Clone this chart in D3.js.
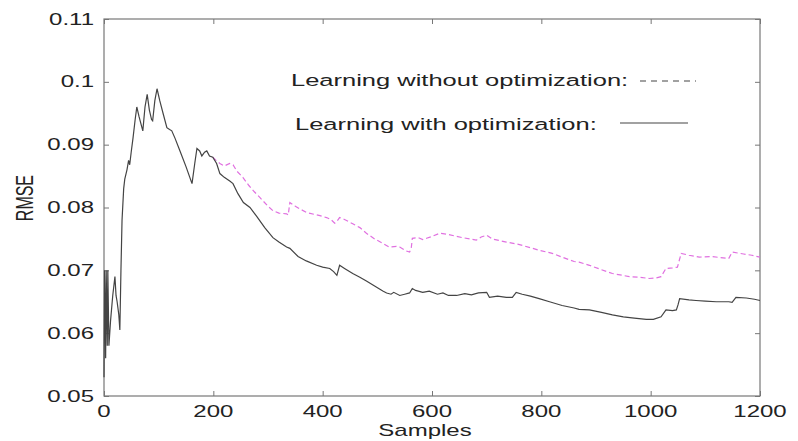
<!DOCTYPE html>
<html>
<head>
<meta charset="utf-8">
<script src="https://cdn.jsdelivr.net/npm/d3@7"></script>
<style>
  body { margin: 0; background: #fff; }
  text { font-family: "Liberation Sans", Arial, sans-serif; fill: #222; }
</style>
</head>
<body>
<div id="chart"></div>
<script>
/* CONSTANTS AND GLOBALS */
const width = 798;
const height = 441;
const margin = { top: 19, right: 38, bottom: 45, left: 104 };
const stretch = 1.5; // the picture is wider than its text
const axisColor = '#777';
const solidColor = '#444';
const dashColor = '#e070e0';

/* DATA */
const xTicks = [0, 200, 400, 600, 800, 1000, 1200];
const yTicks = [0.05, 0.06, 0.07, 0.08, 0.09, 0.1, 0.11];
const seriesNames = ['Learning without optimization:', 'Learning with optimization:'];

// learning with optimization (solid)
const withX = [0, 1, 3, 4, 6, 7, 9, 12, 16, 20, 22, 24, 27, 29, 31, 33, 36, 38, 42, 45, 47, 50, 53, 57, 60, 64, 67, 71, 75, 79, 83, 87, 89, 93, 97, 102, 108, 115, 120, 124, 130, 139, 150, 161, 166, 170, 175, 179, 184, 188, 193, 199,
  206, 212, 220, 230, 236, 245, 255, 267, 280, 294, 309, 320, 334, 340, 355, 370, 389, 400, 413, 420, 426, 431, 440, 455, 468, 480, 495, 510, 517, 525, 530, 541, 550, 559, 564, 570, 583, 595, 610, 620, 630, 645, 660, 672, 685, 700, 705, 720, 736, 747, 754, 765, 780, 796, 815, 838, 860, 869, 888, 910, 930, 950, 970, 992, 1005, 1019, 1028, 1040, 1047, 1050, 1053, 1070, 1083, 1100, 1120, 1143, 1149, 1156, 1175, 1190, 1200];
const withY = [0.053, 0.070, 0.056, 0.070, 0.058, 0.070, 0.058, 0.062, 0.066, 0.069, 0.066, 0.065, 0.063, 0.0605, 0.070, 0.078, 0.083, 0.0845, 0.086, 0.0875, 0.0868, 0.089, 0.091, 0.094, 0.096, 0.0945, 0.0935, 0.0922, 0.096, 0.098, 0.0955, 0.094, 0.0938, 0.097, 0.0989, 0.097, 0.095, 0.0927, 0.0924, 0.0922, 0.091, 0.089, 0.0865, 0.0838, 0.087, 0.0894, 0.089, 0.0882, 0.0888, 0.089, 0.0882, 0.088,
  0.087, 0.0854, 0.0848, 0.0842, 0.0838, 0.0822, 0.0808, 0.080, 0.0785, 0.0768, 0.0752, 0.0745, 0.0737, 0.0735, 0.0722, 0.0715, 0.0708, 0.0705, 0.0703, 0.0698, 0.0692, 0.0708, 0.0703, 0.0695, 0.0689, 0.0683, 0.0675, 0.0667, 0.0664, 0.0662, 0.0665, 0.066, 0.0662, 0.0664, 0.0671, 0.0668, 0.0665, 0.0667, 0.0662, 0.0664, 0.066, 0.066, 0.0663, 0.0661, 0.0664, 0.0665, 0.0657, 0.0659, 0.0657, 0.0657, 0.0665, 0.0662, 0.0659, 0.0655, 0.065, 0.0644, 0.064, 0.0638, 0.0637, 0.0633, 0.0629, 0.0626, 0.0624, 0.0622, 0.0622, 0.0626, 0.0637, 0.0636, 0.0637, 0.0645, 0.0655, 0.0653, 0.0652, 0.0651, 0.065, 0.065, 0.0649, 0.0657, 0.0656, 0.0654, 0.0652];

// learning without optimization (dashed)
const withoutX = [199, 205, 212, 220, 230, 236, 243, 254, 265, 275, 285, 300, 309, 320, 334, 337, 340, 350, 360, 371, 385, 395, 407, 415, 422, 426, 431, 440, 455, 468, 480, 495, 510, 522, 535, 541, 552, 559, 562, 564, 575, 583, 590, 600, 614, 630, 645, 656, 670, 681, 690, 700, 710, 720, 736, 760, 796, 820, 838, 860, 869, 888, 910, 930, 961, 980, 997, 1010, 1019, 1028, 1040, 1049, 1053, 1056, 1070, 1089, 1110, 1143, 1149, 1170, 1185, 1200];
const withoutY = [0.088, 0.0875, 0.087, 0.0866, 0.087, 0.0868, 0.0858, 0.0848, 0.0835, 0.0825, 0.0816, 0.0802, 0.0795, 0.0791, 0.079, 0.0788, 0.0808, 0.0802, 0.0797, 0.0792, 0.0789, 0.0787, 0.0784, 0.0781, 0.0775, 0.0778, 0.0784, 0.0781, 0.0774, 0.0768, 0.0759, 0.075, 0.0743, 0.0737, 0.0738, 0.0737, 0.0731, 0.0729, 0.0735, 0.0751, 0.0752, 0.0749, 0.0751, 0.0754, 0.0759, 0.0757, 0.0754, 0.0752, 0.075, 0.0748, 0.0753, 0.0756, 0.075, 0.0748, 0.0745, 0.0741, 0.0732, 0.0727, 0.0721, 0.0714, 0.0713, 0.0708, 0.0701, 0.0695, 0.069, 0.0689, 0.0687, 0.0688, 0.069, 0.0703, 0.0704, 0.0705, 0.0718, 0.0727, 0.0724, 0.0721, 0.0722, 0.0719, 0.0729, 0.0726, 0.0724, 0.0721];

const withData = withX.map((x, i) => ({ x, y: withY[i] }));
const withoutData = withoutX.map((x, i) => ({ x, y: withoutY[i] }));

/* SCALES */
const xScale = d3.scaleLinear()
  .domain([0, 1200])
  .range([margin.left, width - margin.right]);

const yScale = d3.scaleLinear()
  .domain([0.05, 0.11])
  .range([height - margin.bottom, margin.top]);

/* HTML ELEMENTS */
const svg = d3.select('#chart')
  .append('svg')
  .attr('width', width)
  .attr('height', height)
  .style('background-color', 'white');

// stretched text helper
function label(g, x, y, str, size, anchor, rotate) {
  return g.append('text')
    .attr('transform', `translate(${x},${y}) scale(${stretch},1)` + (rotate ? ` rotate(${rotate})` : ''))
    .attr('text-anchor', anchor)
    .attr('font-size', size)
    .text(str);
}

// ticks pointing inward on all four sides
const tickLen = 5;
svg.append('g')
  .attr('transform', `translate(0,${height - margin.bottom})`)
  .call(d3.axisBottom(xScale).tickValues(xTicks).tickSizeInner(-tickLen).tickSizeOuter(0).tickFormat(''))
  .call(g => g.select('.domain').remove());
svg.append('g')
  .attr('transform', `translate(0,${margin.top})`)
  .call(d3.axisTop(xScale).tickValues(xTicks).tickSizeInner(-tickLen).tickSizeOuter(0).tickFormat(''))
  .call(g => g.select('.domain').remove());
svg.append('g')
  .attr('transform', `translate(${margin.left},0)`)
  .call(d3.axisLeft(yScale).tickValues(yTicks).tickSizeInner(-tickLen).tickSizeOuter(0).tickFormat(''))
  .call(g => g.select('.domain').remove());
svg.append('g')
  .attr('transform', `translate(${width - margin.right},0)`)
  .call(d3.axisRight(yScale).tickValues(yTicks).tickSizeInner(-tickLen).tickSizeOuter(0).tickFormat(''))
  .call(g => g.select('.domain').remove());
svg.selectAll('.tick line').attr('stroke', axisColor);

// frame
svg.append('rect')
  .attr('x', margin.left)
  .attr('y', margin.top)
  .attr('width', width - margin.left - margin.right)
  .attr('height', height - margin.top - margin.bottom)
  .attr('fill', 'none')
  .attr('stroke', axisColor)
  .attr('stroke-width', 1.2);

// tick labels
const labels = svg.append('g');
yTicks.forEach(t => label(labels, margin.left - 10, yScale(t) + 5.5, d3.format('')(t), 16, 'end'));
xTicks.forEach(t => label(labels, xScale(t), height - margin.bottom + 21, t, 16, 'middle'));

// axis titles
label(labels, (margin.left + width - margin.right) / 2 - 7, height - 5, 'Samples', 16, 'middle');
label(labels, 33, yScale(0.0815), 'RMSE', 16, 'middle', -90);

// lines
const line = d3.line()
  .x(d => xScale(d.x))
  .y(d => yScale(d.y));

svg.append('path')
  .datum(withoutData)
  .attr('fill', 'none')
  .attr('stroke', dashColor)
  .attr('stroke-width', 1.2)
  .attr('stroke-dasharray', '5,3')
  .attr('d', line);

svg.append('path')
  .datum(withData)
  .attr('fill', 'none')
  .attr('stroke', solidColor)
  .attr('stroke-width', 1.2)
  .attr('d', line);

// legend
const legend = svg.append('g');
label(legend, 291, 86, seriesNames[0], 17, 'start');
legend.append('line')
  .attr('x1', 640).attr('x2', 696)
  .attr('y1', 81).attr('y2', 81)
  .attr('stroke', solidColor)
  .attr('stroke-width', 1.2)
  .attr('stroke-dasharray', '6,5');
label(legend, 295, 130, seriesNames[1], 17, 'start');
legend.append('line')
  .attr('x1', 620).attr('x2', 688)
  .attr('y1', 123).attr('y2', 123)
  .attr('stroke', solidColor)
  .attr('stroke-width', 1.2);
</script>
</body>
</html>
